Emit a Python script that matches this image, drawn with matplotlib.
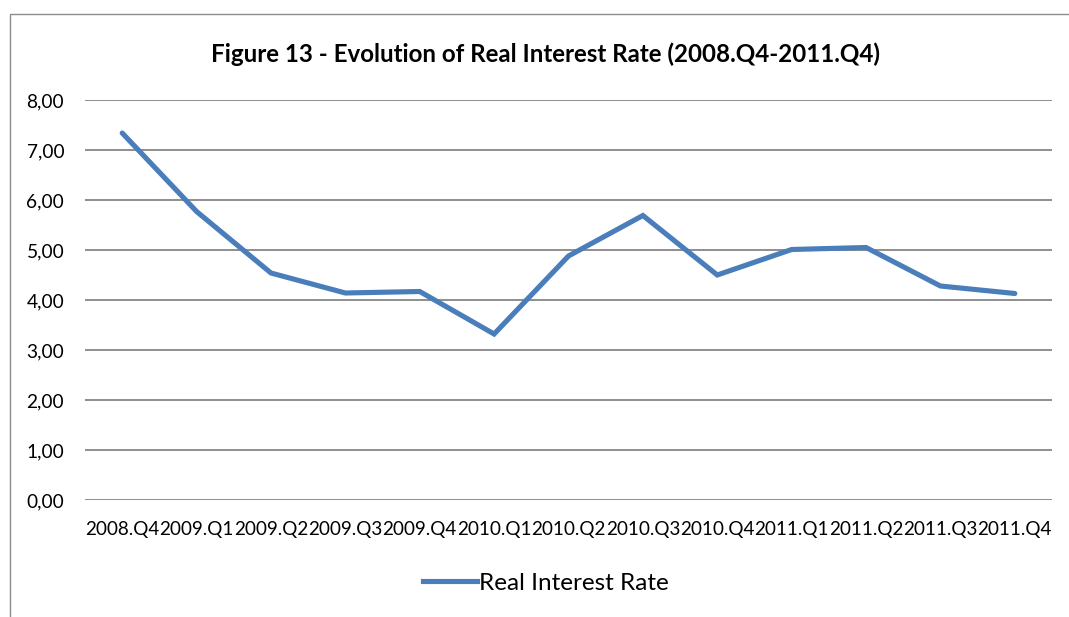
import matplotlib
matplotlib.use("Agg")
import matplotlib.pyplot as plt
from matplotlib.patches import Rectangle
from matplotlib.lines import Line2D

quarters = ["2008.Q4", "2009.Q1", "2009.Q2", "2009.Q3", "2009.Q4", "2010.Q1", "2010.Q2",
            "2010.Q3", "2010.Q4", "2011.Q1", "2011.Q2", "2011.Q3", "2011.Q4"]
real_rate = [7.34, 5.77, 4.54, 4.14, 4.17, 3.32, 4.88, 5.69, 4.50, 5.01, 5.05, 4.28, 4.13]
yticks = [0, 1, 2, 3, 4, 5, 6, 7, 8]

plt.rcParams['font.family'] = ['Lato', 'DejaVu Sans']

W, H = 1069, 617
fig = plt.figure(figsize=(W / 100, H / 100), dpi=100)

# chart frame (Excel style border, clipped by image edge on right/bottom)
fig.patches.append(Rectangle((10 / W, -0.1), 1.2, 1 - 14 / H + 0.1, transform=fig.transFigure,
                             fill=False, edgecolor="#8c8c8c", linewidth=1.0))

ax = fig.add_axes([85 / W, 1 - 500 / H, (1052 - 85) / W, 400 / H])
x = range(len(quarters))
ax.plot(x, real_rate, color="#4a7ebb", linewidth=3.7, solid_joinstyle="miter",
        solid_capstyle="round", label="Real Interest Rate", zorder=3)

ax.set_xlim(-0.5, len(quarters) - 0.5)
ax.set_ylim(0, 8)
ax.set_yticks(yticks)
ax.yaxis.set_major_formatter(matplotlib.ticker.FuncFormatter(lambda v, p: ("%.2f" % v).replace(".", ",")))
ax.set_xticks(list(x))
ax.set_xticklabels(quarters, fontsize=13.6)
ax.tick_params(axis="y", labelsize=13.8)
ax.tick_params(axis="both", length=0, colors="black")
ax.tick_params(axis="x", pad=15)
ax.tick_params(axis="y", pad=15)
ax.grid(axis="y", color="#868686", linewidth=1.3)
for s in ax.spines.values():
    s.set_visible(False)

fig.text(546 / W, 1 - 54 / H, "Figure 13 - Evolution of Real Interest Rate (2008.Q4-2011.Q4)",
         ha="center", va="center", fontsize=17.4, fontweight="bold")

handle = Line2D([], [], color="#4a7ebb", linewidth=3.7)
fig.legend([handle], ["Real Interest Rate"], loc="center", bbox_to_anchor=(546 / W, 1 - 583 / H),
           frameon=False, fontsize=17.5, handlelength=2.2, handletextpad=0.1)

fig.savefig("out.png", dpi=100)
